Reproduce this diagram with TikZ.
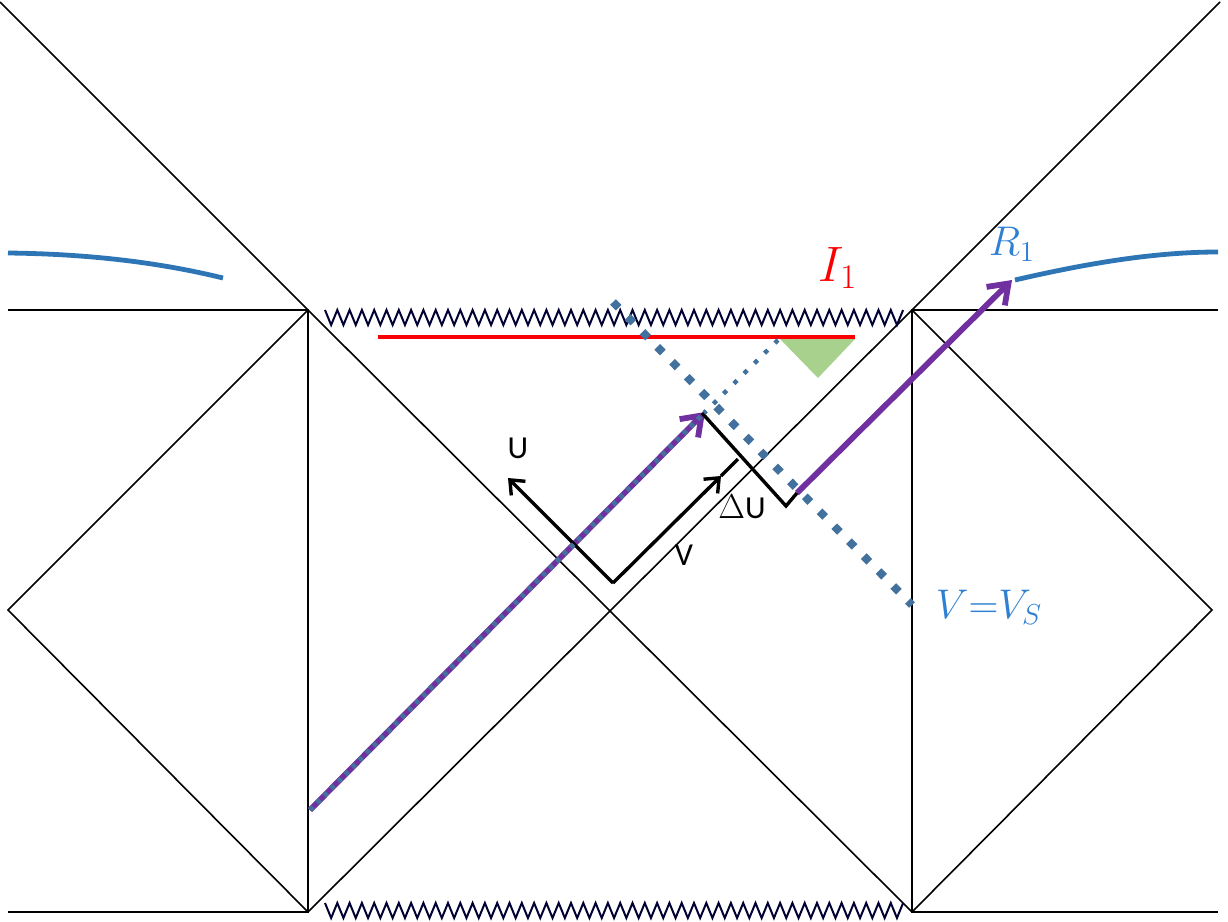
\documentclass[tikz,border=0pt]{standalone}
\usepackage{fontspec}
\newfontfamily\calib{Carlito}
\usetikzlibrary{arrows.meta,positioning}
\definecolor{purp}{RGB}{112,48,160}
\definecolor{curveblue}{RGB}{46,117,182}
\definecolor{dotblue}{RGB}{65,113,156}
\definecolor{labelblue}{RGB}{47,128,210}
\definecolor{lightgreen}{RGB}{169,209,142}
\definecolor{singred}{RGB}{250,0,0}
\tikzset{
    thinline/.style={line width=0.8pt, black},
    % singularity
    zigline/.style={line width=1pt, black!80!blue},
    frameline/.style={line width=1.7pt, black},
    framearrow/.style={
        frameline,
        -{Straight Barb[length=6pt, width=10pt]}
    },
    purplearrow/.style={
        line width=2.9pt,
        purp,
        -{Straight Barb[length=9pt, width=13pt]}
    },
    bigdots/.style={line width=4pt, dotblue, dash pattern=on 4pt off 6.5pt},
    smalldots/.style={line width=2.2pt, dotblue, dash pattern=on 2.2pt off 5pt},
    ondots/.style={line width=2.4pt, dotblue, dash pattern=on 2.2pt off 2.8pt},
    axislabel/.style={font=\calib\fontsize{16}{19}\selectfont, inner sep=0pt}
}
\begin{document}
\begin{tikzpicture}[x=0.5pt,y=-0.5pt]
\useasboundingbox (0,0) rectangle (1228,922);

\path
    (308,310) coordinate (tl)
    (912,310) coordinate (tr)
    (308,912) coordinate (bl)
    (912,912) coordinate (br)
    (8,610) coordinate (lv)
    (1212,610) coordinate (rv)
    (8,310) coordinate (le1)
    (8,912) coordinate (le2)
    (1218,310) coordinate (re1)
    (1218,912) coordinate (re2)
    (0,2) coordinate (lt)
    (1220,2) coordinate (rt);

% Penrose diagram
\draw[thinline] (le1) -- (tl) -- (bl) -- (le2);
\draw[thinline] (re1) -- (tr) -- (br) -- (re2);
\draw[thinline] (lt) -- (tl) -- (lv) -- (bl);
\draw[thinline] (rt) -- (tr) -- (rv) -- (br);
\draw[thinline] (tl) -- (br);
\draw[thinline] (tr) -- (bl);

% singularities
\draw[zigline] (325,310) \foreach \i in {0,...,46} { -- ++(6.15,15) -- ++(6.15,-15) };
\draw[zigline] (325,903) \foreach \i in {0,...,46} { -- ++(6.15,15) -- ++(6.15,-15) };

\path
    (378,337) coordinate (i1)
    (855,337) coordinate (i2)
    (780,339) coordinate (g1)
    (855,339) coordinate (g2)
    (818,378) coordinate (g3);

% island and wedge
\draw[line width=2pt, singred] (i1) -- (i2);
\fill[lightgreen] (g1) -- (g2) -- (g3) -- cycle;

% radiation regions
\draw[line width=2.4pt, curveblue] (8,253) .. controls (100,254) and (170,265) .. (223,278);
\draw[line width=2.4pt, curveblue] (1015,280) .. controls (1080,265) and (1150,252) .. (1218,252);

\path
    (310,810) coordinate (p1)
    (705,412) coordinate (p2)
    (797,493) coordinate (q1)
    (1012,280) coordinate (q2)
    (613,583) coordinate (o)
    (508,478) coordinate (uTip)
    (721,476) coordinate (vTip)
    (738,459) coordinate (vEnd)
    (702,413) coordinate (du1)
    (786,506) coordinate (du2)
    (613,302) coordinate (s1)
    (912,605) coordinate (s2)
    (778,340) coordinate (t1)
    (704,413) coordinate (t2);

% purple rays
\draw[purplearrow] (p1) -- (p2);
\draw[purplearrow] (q1) -- (q2);

% U,V frame
\draw[framearrow] (o) -- (uTip);
\draw[framearrow] (o) -- (vTip);
\draw[frameline] (vTip) -- (vEnd);
\draw[frameline, line join=miter] (du1) -- (du2) -- (q1);

% dotted lines
\draw[ondots] (p1) -- (p2);
\draw[bigdots] (s1) -- (s2);
\draw[smalldots] (t1) -- (t2);

% labels
\node[axislabel] (lblU) at (518,448) {U};
\node[axislabel] (lblV) at (684,555) {V};
\node[axislabel] (lblDU) at (742,507) {$\Delta$U};
\node[singred, font=\fontsize{23}{28}\selectfont, inner sep=0pt] (lblI) at (838,268) {$I_1$};
\node[labelblue, font=\fontsize{21}{25}\selectfont, inner sep=0pt] (lblR) at (1012,244) {$R_1$};
\node[labelblue, font=\fontsize{20}{24}\selectfont, inner sep=0pt] (lblVs) at (989,607) {$V{=}V_S$};
\end{tikzpicture}
\end{document}
